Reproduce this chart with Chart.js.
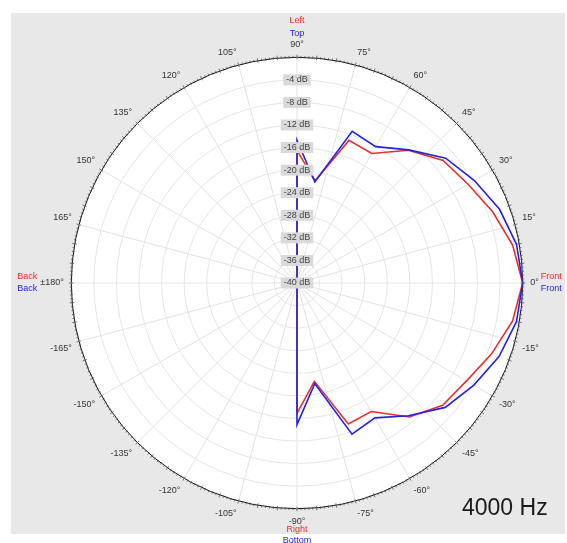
<!DOCTYPE html>
<html>
<head>
<meta charset="utf-8">
<script src="https://cdn.jsdelivr.net/npm/chart.js@4/dist/chart.umd.min.js"></script>
<style>
  html, body { margin: 0; padding: 0; background: #fff; }
  #wrap { position: relative; width: 567px; height: 543px; }
  #panel { position: absolute; left: 11px; top: 13px; width: 554px; height: 521px; background: #e8e8e8; }
  #polar { position: absolute; left: 0; top: 0; }
</style>
</head>
<body>
<div id="wrap">
  <div id="panel"></div>
  <canvas id="polar" width="567" height="543"></canvas>
</div>
<script>
// measured angles (deg, counter-clockwise from Front) and levels in dB
const measAngles = [0, 10, 20, 30, 40, 50, 60, 70, 80, 90,
  100, 110, 120, 130, 140, 150, 160, 170, 180,
  -170, -160, -150, -140, -130, -120, -110, -100,
  -90, -80, -70, -60, -50, -40, -30, -20, -10];

// red: Left / Right plane
const horizontalDb = [0, -1.2, -3.1, -5.0, -6.2, -9.3, -13.5, -13.1, -21.6, -16.5,
  -40, -40, -40, -40, -40, -40, -40, -40, -40,
  -40, -40, -40, -40, -40, -40, -40, -40,
  -16.9, -22.3, -13.4, -13.7, -9.0, -6.3, -5.3, -3.3, -1.2];

// blue: Top / Bottom plane
const verticalDb = [0, -0.5, -1.8, -3.7, -5.6, -9.2, -12.1, -11.4, -21.8, -14.7,
  -40, -40, -40, -40, -40, -40, -40, -40, -40,
  -40, -40, -40, -40, -40, -40, -40, -40,
  -14.9, -21.9, -11.5, -12.4, -9.3, -5.7, -3.8, -1.9, -0.5];

const dbMin = -40;
const dbMax = 0;
const dbStep = 4;
const freqLabel = '4000 Hz';

// slots every 5 deg, clockwise from the top (90 deg)
const slotStep = 5;
const slotCount = 360 / slotStep;
const slotAngles = [];
for (let i = 0; i < slotCount; i++) {
  let a = 90 - i * slotStep;
  if (a <= -180) a += 360;
  slotAngles.push(a);
}

function angleText(a) {
  if (a === 180) return '\u00b1180\u00b0';
  return a + '\u00b0';
}

function toSlots(values) {
  const out = new Array(slotCount).fill(null);
  measAngles.forEach((a, k) => {
    const idx = (((90 - a) / slotStep) % slotCount + slotCount) % slotCount;
    out[idx] = values[k];
  });
  return out;
}

const RED = 'rgb(235, 45, 45)';
const BLUE = 'rgb(35, 35, 225)';

const polarDecor = {
  id: 'polarDecor',
  beforeDraw(chart) {
    const s = chart.scales.r;
    const ctx = chart.ctx;
    ctx.save();
    ctx.fillStyle = '#fff';
    ctx.beginPath();
    ctx.arc(s.xCenter, s.yCenter, s.drawingArea, 0, Math.PI * 2);
    ctx.fill();
    ctx.restore();
  },
  afterDraw(chart) {
    const s = chart.scales.r;
    const ctx = chart.ctx;
    const cx = s.xCenter, cy = s.yCenter, R = s.drawingArea;
    ctx.save();
    // outer ring ticks
    ctx.strokeStyle = '#555';
    ctx.lineWidth = 0.8;
    ctx.beginPath();
    for (let d = 0; d < 360; d++) {
      const big = d % 5 === 0;
      const r1 = R - (big ? 2 : 1);
      const r2 = R + (big ? 2.5 : 1.5);
      const t = d * Math.PI / 180;
      ctx.moveTo(cx + r1 * Math.cos(t), cy - r1 * Math.sin(t));
      ctx.lineTo(cx + r2 * Math.cos(t), cy - r2 * Math.sin(t));
    }
    ctx.stroke();

    ctx.font = '9px "Liberation Sans", Arial, sans-serif';
    ctx.textBaseline = 'middle';
    ctx.textAlign = 'center';
    ctx.fillStyle = RED;
    ctx.fillText('Left', cx, cy - R - 37);
    ctx.fillText('Right', cx, cy + R + 21);
    ctx.fillStyle = BLUE;
    ctx.fillText('Top', cx, cy - R - 24);
    ctx.fillText('Bottom', cx, cy + R + 32);

    ctx.textAlign = 'left';
    ctx.fillStyle = RED;
    ctx.fillText('Front', cx + R + 18, cy - 6);
    ctx.fillStyle = BLUE;
    ctx.fillText('Front', cx + R + 18, cy + 6);
    ctx.textAlign = 'right';
    ctx.fillStyle = RED;
    ctx.fillText('Back', cx - R - 34, cy - 6);
    ctx.fillStyle = BLUE;
    ctx.fillText('Back', cx - R - 34, cy + 6);

    ctx.font = '23px "Liberation Sans", Arial, sans-serif';
    ctx.fillStyle = '#1a1a1a';
    ctx.textAlign = 'left';
    ctx.textBaseline = 'alphabetic';
    ctx.fillText(freqLabel, 462, 515);
    ctx.restore();
  }
};

const ctx = document.getElementById('polar').getContext('2d');

const polarChart = new Chart(ctx, {
  type: 'radar',
  data: {
    labels: slotAngles.map(angleText),
    datasets: [
      {
        label: 'Top / Bottom',
        data: toSlots(verticalDb),
        borderColor: BLUE,
        borderWidth: 1.6,
        pointRadius: 0,
        fill: false,
        tension: 0,
        spanGaps: true
      },
      {
        label: 'Left / Right',
        data: toSlots(horizontalDb),
        borderColor: RED,
        borderWidth: 1.6,
        pointRadius: 0,
        fill: false,
        tension: 0,
        spanGaps: true
      }
    ]
  },
  options: {
    responsive: false,
    animation: false,
    layout: { padding: { left: 32, right: 12, top: 39, bottom: 16 } },
    plugins: {
      legend: { display: false },
      tooltip: { enabled: false }
    },
    scales: {
      r: {
        min: dbMin,
        max: dbMax,
        startAngle: 0,
        beginAtZero: false,
        angleLines: {
          color: (c) => (slotAngles[c.index] % 15 === 0 ? '#e3e3e3' : 'transparent'),
          lineWidth: 1
        },
        grid: {
          circular: true,
          color: (c) => (c.tick && c.tick.value === dbMax ? '#111' : '#e6e6e6'),
          lineWidth: 1
        },
        pointLabels: {
          padding: 2,
          color: '#333',
          font: { family: '"Liberation Sans", Arial, sans-serif', size: 9 },
          callback: (label, i) => (slotAngles[i] % 15 === 0 ? label : '')
        },
        ticks: {
          stepSize: dbStep,
          color: '#444',
          font: { family: '"Liberation Sans", Arial, sans-serif', size: 9 },
          showLabelBackdrop: true,
          backdropColor: (c) => (c.tick && c.tick.value === dbMax ? 'transparent' : '#d9d9d9'),
          backdropPadding: { x: 3, y: 1 },
          z: 1,
          callback: (v) => (v === dbMax ? '' : v + ' dB')
        }
      }
    }
  },
  plugins: [polarDecor]
});
</script>
</body>
</html>
